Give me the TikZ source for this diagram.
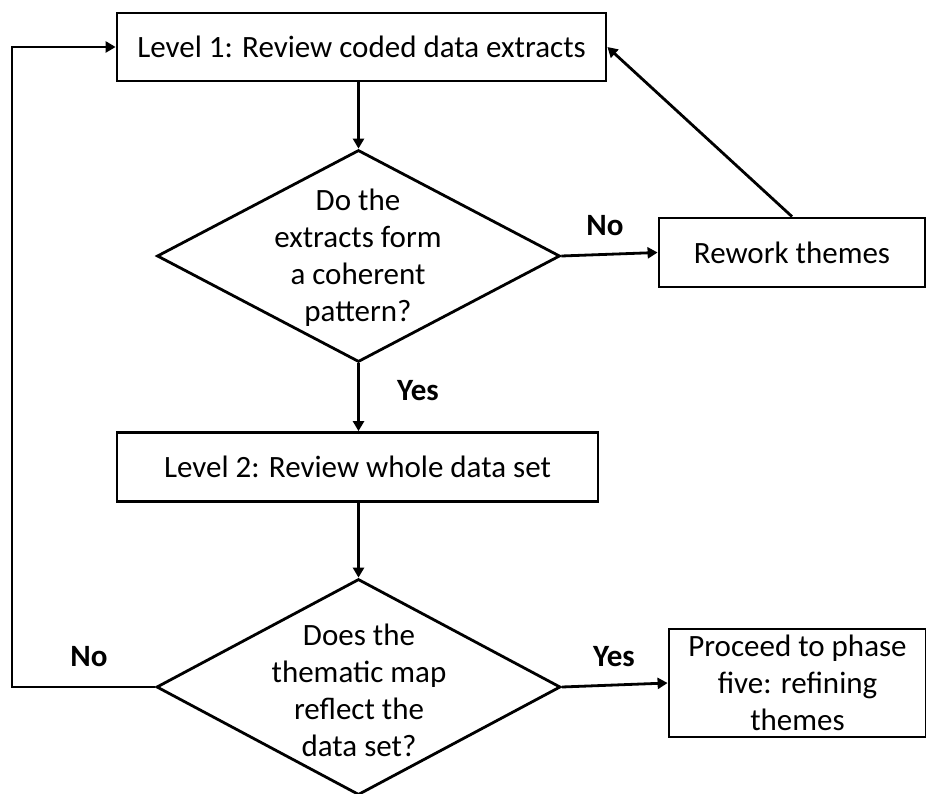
\documentclass[tikz,border=0pt]{standalone}
\usepackage{fontspec}
\setmainfont{Carlito}
\usetikzlibrary{shapes.geometric,arrows.meta}
\begin{document}
\begin{tikzpicture}[x=1pt,y=-1pt,
  every node/.style={font=\fontsize{31}{37}\selectfont},
  stepbox/.style={draw,line width=2.8pt,inner sep=0pt,align=center},
  dia/.style={draw,diamond,line width=2.8pt,inner sep=0pt},
  lbl/.style={font=\fontsize{31}{37}\selectfont\bfseries},
  conn/.style={line width=2.8pt,-{Triangle[length=10pt,width=11pt]}},
  txt/.style={align=center,inner sep=0pt}]
\useasboundingbox (0,0) rectangle (926,794);
\node[stepbox,minimum width=489,minimum height=68] (b1) at (361.5,47) {Level 1: Review coded data extracts};
\node[dia,minimum width=403,minimum height=212] (d1) at (358.5,256) {};
\node[txt] (d1t) at (358,258) {Do the\\extracts form\\a coherent\\pattern?};
\node[stepbox,minimum width=266,minimum height=69] (rw) at (792,252.5) {Rework themes};
\node[stepbox,minimum width=481,minimum height=69] (b2) at (357.5,467) {Level 2: Review whole data set};
\node[dia,minimum width=404,minimum height=216] (d2) at (358.5,687) {};
\node[txt] (d2t) at (359,690) {Does the\\thematic map\\reflect the\\data set?};
\node[stepbox,minimum width=257,minimum height=108] (fin) at (797.5,683) {Proceed to phase\\five: refining\\themes};
\node[lbl] (no1) at (605,226) {No};
\node[lbl] (yes1) at (418,391) {Yes};
\node[lbl] (no2) at (89,657) {No};
\node[lbl] (yes2) at (614,657) {Yes};
\coordinate (lc) at (12,687);
\draw[conn] (d1.north |- b1.south) -- (d1.north);
\draw[conn] (d1.east) -- (rw.west);
\draw[conn] (rw.north) -- (b1.east);
\draw[conn] (d1.south) -- (d1.south |- b2.north);
\draw[conn] (d2.north |- b2.south) -- (d2.north);
\draw[conn] (d2.east) -- (fin.west);
\draw[conn] (d2.west) -- (lc) |- (b1.west);
\end{tikzpicture}
\end{document}
